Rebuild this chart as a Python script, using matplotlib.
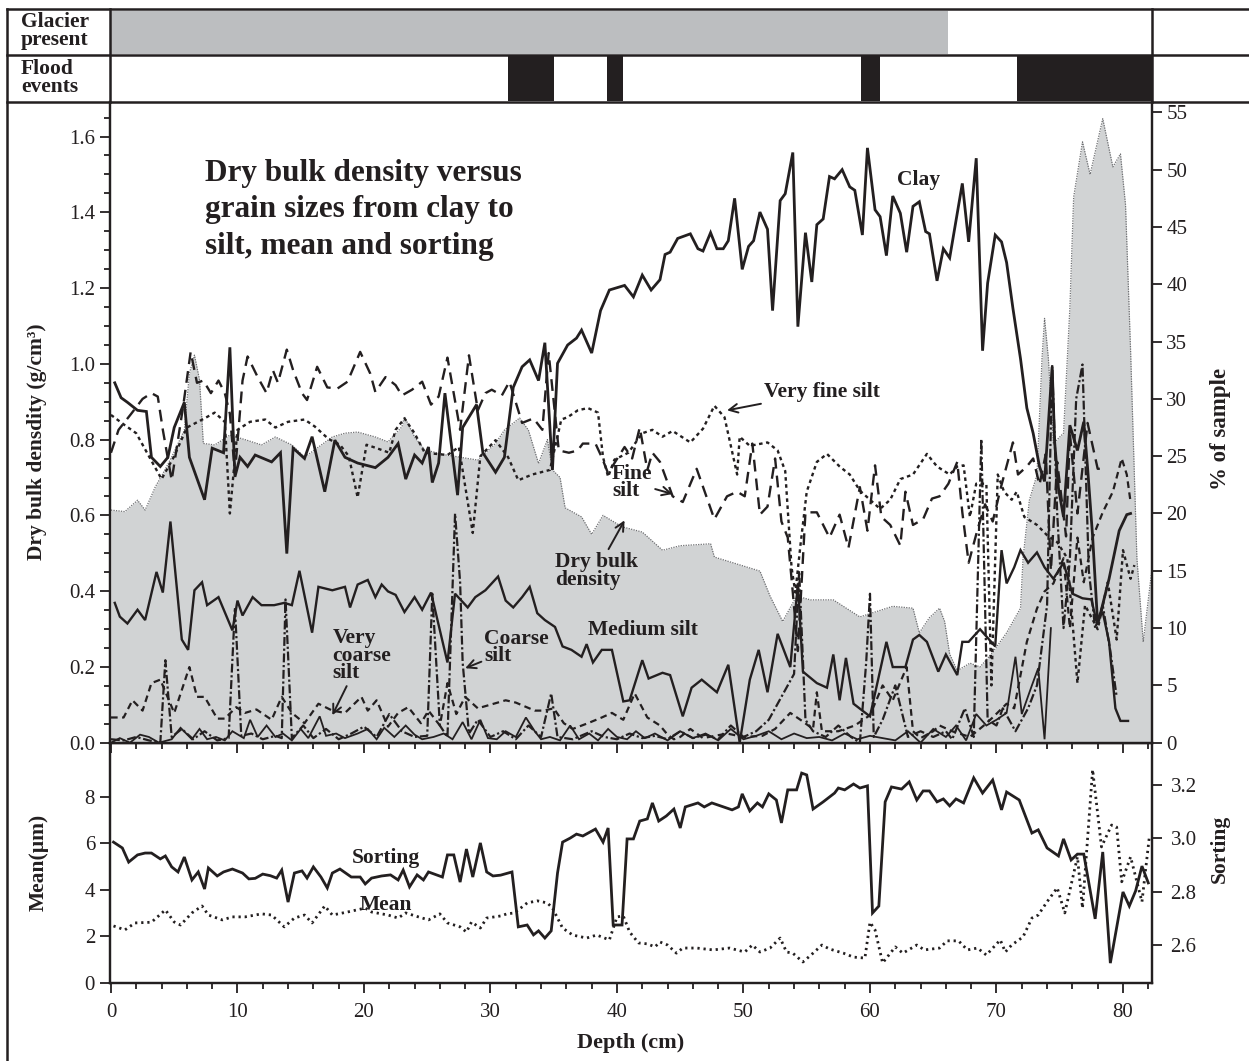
import matplotlib
matplotlib.use("Agg")
import matplotlib.pyplot as plt
from matplotlib.lines import Line2D
from matplotlib.ticker import MultipleLocator, FormatStrFormatter

plt.rcParams['font.family'] = ['Liberation Serif', 'DejaVu Serif']
plt.rcParams['lines.solid_joinstyle'] = 'miter'

INK = '#231f20'
W, H = 1249, 1061

# ---- core sections: depth (cm) vs. value ----
glacier_end = 66.2
flood_start = [31.4, 39.2, 59.3, 71.6]
flood_end = [35.0, 40.5, 60.8, 82.3]

dbd_depth = [0.0, 1.1, 2.1, 2.7, 3.5, 4.1, 4.8, 5.8, 6.2, 6.6, 7.0, 7.3, 8.2, 9.4, 10.6, 11.9, 13.0,
             14.3, 15.3, 16.1, 17.5, 18.5, 19.5, 20.9, 21.9, 23.0, 23.2, 24.0, 24.8, 26.4, 29.0, 30.4,
             31.1, 32.3, 33.0, 33.8, 34.5, 34.9, 35.5, 35.9, 37.2, 38.0, 38.9, 40.4, 42.0, 43.6, 45.0,
             47.4, 47.7, 51.3, 52.1, 53.1, 54.2, 55.3, 57.1, 59.2, 61.8, 63.4, 63.9, 64.7, 65.5, 65.9,
             66.3, 66.9, 67.9, 68.7, 69.6, 70.8, 71.9, 72.1, 72.6, 73.2, 73.6, 73.8, 74.1, 74.5, 75.3,
             75.8, 76.1, 76.8, 77.4, 78.4, 79.2, 79.8, 80.2, 80.6, 81.1, 81.6, 82.27]
dbd = [0.614, 0.61, 0.64, 0.614, 0.675, 0.71, 0.754, 0.825, 0.975, 1.023, 0.958, 0.79, 0.786, 0.812,
       0.80, 0.786, 0.807, 0.786, 0.754, 0.773, 0.807, 0.817, 0.82, 0.807, 0.794, 0.834, 0.86, 0.807,
       0.773, 0.76, 0.746, 0.79, 0.825, 0.857, 0.825, 0.737, 0.80, 0.72, 0.70, 0.62, 0.596, 0.55, 0.60,
       0.57, 0.556, 0.508, 0.52, 0.525, 0.49, 0.453, 0.387, 0.32, 0.387, 0.377, 0.377, 0.332, 0.36,
       0.355, 0.29, 0.33, 0.355, 0.32, 0.234, 0.19, 0.21, 0.2, 0.234, 0.29, 0.355, 0.487, 0.64, 0.707,
       1.015, 1.12, 1.015, 0.79, 0.817, 1.147, 1.44, 1.586, 1.5, 1.647, 1.52, 1.554, 1.42, 1.036, 0.487,
       0.266, 0.453]

clay_depth = [0.3, 0.8, 1.3, 2.1, 2.8, 3.2, 3.9, 4.5, 5.0, 5.8, 6.2, 7.4, 8.0, 8.9, 9.4, 9.8, 10.2,
              10.8, 11.4, 12.7, 13.4, 13.9, 14.4, 15.3, 15.9, 16.9, 17.7, 18.5, 19.5, 20.9, 21.9, 22.7,
              23.3, 24.0, 24.6, 25.1, 25.4, 25.9, 26.4, 27.4, 27.8, 28.9, 29.4, 30.4, 31.1, 31.8, 32.5,
              33.1, 33.8, 34.3, 34.9, 35.3, 36.1, 36.8, 37.2, 38.0, 38.7, 39.4, 40.6, 41.3, 42.0, 42.7,
              43.4, 43.8, 44.2, 44.8, 45.8, 46.4, 46.8, 47.4, 47.9, 48.4, 48.8, 49.3, 49.9, 50.4, 50.8,
              51.3, 51.9, 52.3, 52.9, 53.3, 53.9, 54.3, 54.9, 55.4, 55.8, 56.3, 56.8, 57.2, 57.8, 58.4,
              58.8, 59.4, 59.8, 60.4, 60.8, 61.3, 61.8, 62.4, 62.9, 63.4, 63.9, 64.4, 64.7, 65.3, 65.8,
              66.3, 67.3, 67.8, 68.4, 68.9, 69.3, 69.9, 70.4, 70.8, 71.3, 71.9, 72.4, 72.9, 73.4, 73.8,
              74.4, 74.6, 74.9, 75.3, 75.8, 76.4, 76.9, 77.2, 77.6, 78.0, 78.9, 79.7, 80.3, 80.6]
clay = [31.4, 30.1, 29.7, 29.0, 28.9, 24.9, 24.1, 24.9, 27.5, 29.7, 24.9, 21.2, 25.7, 25.3, 34.5, 23.2,
        24.9, 24.1, 25.1, 24.5, 25.3, 16.5, 25.7, 24.8, 26.7, 21.9, 26.4, 24.9, 24.4, 24.0, 24.9, 26.1,
        23.0, 25.1, 24.4, 25.8, 22.7, 24.4, 30.5, 21.6, 27.5, 29.5, 25.3, 23.6, 24.9, 31.0, 32.8, 33.4,
        31.6, 34.9, 23.8, 33.1, 34.7, 35.3, 36.0, 34.0, 37.7, 39.5, 39.9, 38.9, 40.8, 39.5, 40.4, 42.6,
        42.8, 44.0, 44.4, 43.1, 42.9, 44.5, 43.1, 43.1, 43.8, 47.5, 41.3, 43.3, 43.8, 46.3, 44.8, 37.7,
        47.3, 47.9, 51.5, 36.3, 44.5, 40.2, 45.2, 45.7, 49.4, 49.2, 50.0, 48.5, 48.2, 44.3, 51.9, 46.5,
        45.9, 42.5, 47.7, 46.2, 42.8, 46.8, 47.2, 44.6, 44.4, 40.3, 43.1, 42.3, 48.8, 43.7, 51.0, 34.2,
        40.1, 44.3, 43.7, 41.9, 37.9, 33.5, 29.2, 27.0, 24.1, 22.8, 32.8, 26.2, 22.2, 19.7, 27.7, 25.5,
        28.0, 24.0, 18.0, 10.3, 14.3, 18.5, 19.9, 20.0]

fine_depth = [0.0, 0.6, 1.6, 2.5, 3.2, 3.7, 4.1, 4.8, 5.7, 6.3, 6.8, 7.3, 7.9, 8.5, 9.0, 9.4, 9.8, 10.4,
              10.8, 11.6, 12.3, 12.8, 13.2, 13.9, 14.4, 15.1, 15.5, 16.3, 17.1, 17.9, 18.7, 19.7, 20.5,
              20.9, 21.7, 22.5, 23.0, 23.8, 24.6, 25.3, 25.9, 26.6, 27.6, 28.3, 29.0, 29.6, 30.1, 30.9,
              31.5, 32.5, 33.4, 34.1, 34.6, 35.4, 36.2, 36.9, 37.3, 38.3, 38.8, 39.3, 39.8, 40.6, 41.2,
              41.8, 42.4, 42.8, 43.4, 44.4, 45.2, 46.3, 47.7, 48.7, 49.5, 50.1, 50.7, 51.3, 51.9, 52.5,
              53.0, 53.5, 53.9, 54.3, 54.9, 55.8, 56.8, 57.6, 58.3, 59.2, 59.8, 60.4, 60.9, 61.6, 62.4,
              62.8, 63.4, 64.2, 64.9, 65.5, 66.2, 66.9, 67.3, 67.8, 68.5, 69.1, 69.7, 70.4, 71.3, 71.7,
              72.4, 72.9, 73.4, 73.9, 74.3, 74.8, 75.5, 75.8, 76.4, 77.2, 78.0, 78.7]
fine = [25.3, 27.3, 28.7, 30.0, 30.5, 30.2, 27.3, 22.9, 29.3, 34.1, 31.4, 31.6, 30.5, 31.6, 30.5, 28.7,
        23.5, 31.6, 33.7, 31.9, 30.5, 32.5, 31.4, 34.3, 32.5, 30.5, 29.9, 32.8, 31.0, 30.9, 31.5, 34.1,
        32.2, 30.6, 31.9, 31.2, 30.3, 30.8, 31.5, 29.5, 30.2, 33.6, 27.3, 33.8, 29.0, 30.5, 30.8, 30.3,
        31.5, 27.9, 28.3, 27.3, 34.0, 25.5, 25.3, 25.5, 26.1, 26.1, 24.9, 23.5, 24.4, 25.8, 24.8, 27.5,
        23.8, 25.3, 24.5, 21.5, 21.0, 23.9, 19.5, 21.5, 21.9, 21.5, 26.1, 19.9, 20.6, 24.8, 19.3, 17.9,
        13.1, 8.0, 20.1, 20.1, 17.9, 19.9, 17.0, 22.3, 18.5, 24.2, 19.7, 19.0, 17.2, 21.9, 19.0, 19.5,
        21.3, 21.5, 22.6, 24.5, 20.1, 15.7, 18.6, 20.8, 19.3, 22.5, 26.2, 23.4, 24.1, 24.8, 22.5, 25.2,
        15.0, 24.5, 18.0, 27.0, 20.0, 27.9, 23.9, 23.9]

vfine_depth = [0.0, 1.1, 2.0, 3.0, 4.0, 5.0, 6.0, 7.4, 8.2, 9.0, 9.4, 10.0, 11.0, 12.2, 13.0, 14.0,
               15.3, 16.1, 17.2, 18.1, 18.8, 19.5, 20.2, 21.0, 22.0, 22.5, 23.2, 24.0, 24.8, 26.6, 27.5,
               28.6, 29.2, 30.4, 31.4, 32.2, 33.3, 34.7, 35.6, 36.1, 36.9, 37.7, 38.5, 38.9, 39.3, 39.8,
               40.9, 42.0, 42.8, 43.6, 44.4, 45.8, 46.8, 47.7, 48.5, 49.5, 49.7, 50.5, 51.9, 52.7, 53.3,
               53.8, 54.1, 54.5, 55.0, 55.8, 56.6, 57.6, 58.4, 59.2, 60.0, 60.8, 61.6, 62.4, 63.4, 64.5,
               65.3, 66.3, 66.9, 67.4, 67.9, 68.4, 69.2, 69.6, 70.1, 70.6, 71.2, 71.6, 72.2, 73.2, 74.0,
               74.8, 75.6, 76.4, 77.0, 78.0, 78.8, 79.5, 80.0, 80.6, 80.9]
vfine = [28.6, 27.7, 27.0, 25.0, 23.0, 25.0, 27.5, 28.3, 28.8, 28.0, 20.0, 27.3, 28.0, 28.2, 27.5, 28.0,
         28.2, 27.6, 26.5, 26.0, 25.0, 21.4, 26.0, 25.7, 25.3, 27.3, 28.3, 27.0, 25.3, 25.1, 25.8, 18.3,
         25.0, 26.4, 24.9, 22.9, 23.4, 23.8, 28.2, 28.4, 29.0, 29.2, 28.8, 24.9, 23.2, 24.7, 25.3, 27.0,
         27.3, 26.7, 27.2, 26.2, 27.4, 29.4, 28.4, 23.4, 26.7, 25.9, 26.2, 25.5, 23.7, 15.3, 13.1, 17.2,
         21.9, 24.5, 25.2, 24.1, 23.4, 22.0, 21.2, 20.4, 21.2, 23.0, 23.4, 25.2, 24.1, 23.4, 24.1, 24.2,
         19.7, 22.6, 22.6, 5.0, 23.4, 21.9, 21.2, 21.9, 19.7, 19.0, 18.1, 17.5, 16.1, 5.2, 12.0, 9.9,
         14.0, 9.0, 16.8, 14.3, 15.5]

medium_depth = [0.3, 0.7, 1.3, 2.1, 2.7, 3.6, 4.1, 4.7, 5.6, 6.1, 6.6, 7.2, 7.6, 8.5, 9.6, 10.0, 10.4,
                11.2, 11.9, 12.9, 13.7, 14.3, 14.9, 15.9, 16.4, 17.5, 18.5, 18.9, 19.5, 20.3, 20.9, 21.4,
                21.9, 22.5, 23.2, 24.0, 24.6, 25.3, 26.6, 27.2, 28.2, 28.8, 29.6, 30.1, 30.6, 31.2, 31.8,
                32.5, 33.1, 33.7, 34.3, 35.1, 35.7, 36.4, 37.2, 37.6, 38.1, 38.8, 39.6, 40.5, 41.0, 42.0,
                42.5, 43.6, 44.2, 45.2, 45.9, 46.7, 47.9, 48.8, 49.7, 50.5, 51.2, 51.9, 52.7, 53.7, 54.3,
                54.7, 55.8, 56.6, 57.1, 57.6, 58.1, 58.7, 59.4, 60.0, 60.5, 61.3, 61.8, 62.8, 63.4, 63.9,
                64.5, 65.4, 66.0, 66.9, 67.3, 67.8, 68.7, 69.9, 70.4, 70.8, 71.4, 71.9, 72.5, 73.2, 73.8,
                74.5, 75.3, 76.0, 76.8, 77.5, 77.9, 78.4, 78.9, 79.4, 79.8, 80.4]
medium = [12.2, 11.0, 10.4, 11.6, 10.7, 14.9, 13.1, 19.3, 9.0, 8.1, 13.3, 14.0, 12.0, 12.7, 9.8, 12.4,
          11.1, 12.7, 12.0, 12.0, 12.2, 12.0, 15.0, 9.6, 13.6, 13.3, 13.6, 11.8, 13.8, 14.2, 12.7, 13.8,
          13.2, 12.9, 11.4, 12.7, 11.6, 13.1, 7.0, 13.0, 11.8, 12.7, 13.3, 13.9, 14.5, 12.4, 11.8, 12.7,
          13.6, 11.3, 10.7, 10.1, 8.4, 8.1, 7.5, 8.6, 7.0, 8.1, 8.1, 3.6, 3.7, 7.2, 5.6, 6.1, 5.9, 2.3,
          4.8, 5.5, 4.4, 6.8, 0.0, 5.5, 8.1, 4.4, 9.5, 6.6, 13.9, 6.2, 5.2, 4.8, 7.7, 3.7, 7.4, 3.4, 2.8,
          2.3, 4.8, 8.8, 6.6, 6.6, 9.0, 9.4, 8.8, 6.2, 7.7, 5.9, 8.8, 8.8, 9.9, 8.4, 16.8, 13.9, 15.3,
          16.8, 15.7, 16.6, 15.3, 14.3, 15.7, 13.0, 12.6, 12.5, 10.6, 11.4, 8.8, 3.0, 1.9, 1.9]

coarse_depth = [0.0, 1.0, 2.0, 3.0, 3.9, 4.3, 4.8, 5.6, 6.5, 7.4, 8.4, 9.3, 9.8, 10.3, 11.1, 12.0, 13.0,
                13.5, 13.8, 14.3, 15.2, 16.0, 17.0, 18.0, 19.0, 20.0, 21.0, 22.0, 23.0, 24.0, 25.0, 25.4,
                26.0, 26.6, 27.2, 27.6, 27.8, 28.3, 29.0, 30.0, 31.0, 32.0, 33.0, 34.0, 34.8, 35.3, 36.5,
                38.0, 39.0, 40.0, 41.0, 42.0, 43.0, 44.0, 45.0, 46.0, 47.0, 48.0, 49.0, 50.0, 51.0, 52.0,
                53.0, 54.0, 54.4, 54.9, 55.5, 56.5, 57.5, 58.5, 59.2, 59.7, 60.0, 60.3, 61.0, 62.0, 63.0,
                64.0, 65.0, 66.0, 66.5, 67.5, 68.2, 68.8, 69.3, 70.0, 70.5, 71.5, 72.5, 73.2, 74.0, 74.4,
                74.8, 75.3, 75.8, 76.3, 76.8, 77.3, 77.8, 78.4, 79.0, 79.5]
coarse = [0.3, 0.2, 0.5, 0.2, 0.0, 7.2, 0.5, 1.2, 0.3, 1.0, 0.2, 0.4, 11.8, 0.6, 0.8, 0.3, 0.6, 0.4, 12.5,
          0.4, 1.5, 0.4, 1.2, 0.3, 0.8, 1.4, 0.5, 2.5, 1.0, 0.5, 0.6, 13.0, 1.5, 0.5, 20.0, 14.0, 7.0,
          0.8, 2.0, 0.5, 1.0, 0.3, 1.5, 0.5, 4.3, 0.5, 0.3, 1.0, 0.5, 0.3, 0.8, 0.4, 0.6, 0.3, 1.0, 0.4,
          0.7, 0.3, 1.5, 0.5, 1.0, 2.0, 4.0, 6.0, 15.0, 2.0, 1.0, 0.5, 1.5, 0.5, 0.0, 7.0, 13.0, 0.5, 2.0,
          5.0, 0.5, 1.0, 0.5, 1.0, 0.3, 3.0, 0.5, 26.5, 2.0, 1.5, 3.0, 1.0, 3.0, 5.0, 12.0, 33.0, 20.0,
          10.0, 16.0, 30.0, 33.0, 15.0, 10.0, 12.0, 8.0, 4.0]

vcoarse_depth = [0.0, 1.0, 1.7, 2.5, 3.2, 3.9, 5.0, 6.2, 6.8, 7.4, 8.4, 9.0, 9.9, 10.6, 11.5, 12.7, 13.5,
                 14.3, 15.3, 16.4, 17.5, 18.5, 19.8, 20.3, 21.0, 21.9, 22.7, 23.5, 24.5, 25.1, 26.0, 26.6,
                 27.3, 28.0, 29.0, 31.2, 32.0, 33.5, 34.2, 35.0, 35.8, 36.5, 37.7, 38.8, 39.6, 40.5, 41.4,
                 42.4, 43.4, 44.0, 44.5, 45.0, 45.8, 46.8, 48.7, 50.0, 51.5, 52.5, 53.7, 54.5, 55.5, 55.8,
                 56.2, 57.5, 58.8, 60.0, 61.0, 61.8, 62.9, 63.4, 64.0, 65.0, 65.5, 66.5, 67.9, 69.0, 69.7,
                 70.8, 71.4, 72.4, 73.2, 73.8, 74.5, 75.3, 75.8, 76.4, 76.9, 77.6, 78.4, 79.2, 79.9, 80.3,
                 80.6]
vcoarse = [2.2, 2.2, 3.7, 2.8, 5.2, 5.5, 2.6, 6.6, 4.0, 4.0, 2.1, 2.1, 3.1, 2.6, 2.9, 2.0, 4.0, 2.6, 1.7,
           3.4, 2.8, 2.6, 4.0, 2.8, 3.7, 1.4, 2.6, 3.1, 1.7, 2.8, 1.5, 5.2, 2.5, 4.0, 3.0, 3.7, 3.5, 2.8,
           2.8, 3.0, 1.7, 1.2, 1.7, 2.2, 2.6, 2.0, 4.3, 2.2, 1.5, 0.7, 0.3, 0.5, 1.2, 0.4, 0.8, 0.5, 0.6,
           1.2, 2.6, 2.0, 1.2, 4.4, 1.0, 1.0, 1.5, 2.4, 5.0, 3.7, 6.6, 1.0, 0.4, 1.0, 1.5, 1.0, 0.5, 1.5,
           2.2, 3.4, 3.0, 8.8, 11.7, 13.2, 13.9, 16.1, 10.0, 17.9, 14.0, 17.9, 20.1, 21.9, 24.8, 23.4, 21.0]

sand_depth = [0.0, 0.7, 1.5, 2.3, 3.0, 3.8, 4.8, 5.5, 6.4, 7.0, 7.6, 8.3, 9.0, 9.6, 10.5, 11.0, 11.6,
              12.3, 13.0, 13.6, 14.3, 15.0, 15.6, 16.5, 17.0, 17.8, 18.5, 19.5, 20.3, 21.0, 21.6, 22.4,
              23.3, 24.0, 24.6, 25.5, 26.3, 27.0, 27.8, 28.5, 29.2, 29.8, 30.5, 31.2, 32.0, 32.8, 33.5,
              34.0, 34.7, 35.5, 36.3, 37.0, 37.8, 38.5, 39.3, 40.0, 40.8, 41.5, 42.2, 43.0, 44.0, 45.0,
              46.0, 47.0, 48.0, 49.0, 50.0, 51.0, 52.0, 53.0, 54.0, 55.0, 56.0, 57.0, 58.0, 59.0, 60.0,
              61.0, 62.0, 63.0, 64.0, 65.0, 66.0, 66.8, 67.6, 68.4, 69.2, 70.0, 70.8, 71.5, 72.0, 72.8,
              73.3, 73.8, 74.3]
sand = [0.0, 0.4, 0.0, 0.7, 0.5, 0.0, 0.3, 1.3, 0.3, 1.2, 0.3, 0.5, 0.2, 1.0, 0.4, 2.0, 0.5, 1.5, 0.5,
        0.8, 0.2, 1.2, 0.4, 2.3, 0.6, 0.8, 0.4, 0.8, 1.2, 0.3, 1.3, 0.5, 1.5, 0.7, 0.3, 0.5, 0.8, 0.3,
        1.8, 0.3, 2.0, 0.4, 0.3, 1.0, 0.5, 2.2, 1.0, 0.3, 0.5, 0.2, 1.5, 0.3, 0.8, 0.2, 1.2, 0.5, 0.3,
        1.0, 0.4, 0.8, 0.2, 1.0, 0.4, 0.8, 0.2, 1.2, 0.3, 0.6, 1.0, 0.3, 0.8, 0.4, 0.5, 0.2, 0.8, 0.3,
        0.6, 0.4, 0.2, 1.0, 0.0, 1.2, 0.5, 1.5, 0.2, 2.5, 1.5, 2.0, 2.6, 7.5, 2.5, 5.0, 6.5, 0.3, 10.0]

sort_depth = [0.2, 0.9, 1.4, 2.1, 2.7, 3.2, 3.9, 4.3, 4.8, 5.3, 5.8, 6.4, 6.9, 7.4, 7.7, 8.4, 8.9, 9.6,
              10.4, 10.9, 11.4, 12.0, 12.6, 13.1, 13.5, 14.0, 14.5, 15.1, 15.5, 16.0, 16.6, 17.1, 17.5,
              18.1, 19.0, 19.7, 20.1, 20.6, 21.4, 22.1, 22.7, 23.1, 23.6, 24.2, 24.7, 25.1, 26.2, 26.6,
              27.1, 27.6, 28.1, 28.6, 29.2, 29.7, 30.2, 30.8, 31.7, 32.2, 32.9, 33.4, 33.8, 34.3, 34.8,
              35.3, 35.7, 36.3, 36.8, 37.3, 38.3, 38.9, 39.3, 39.7, 40.4, 40.8, 41.3, 41.8, 42.4, 42.8,
              43.3, 43.9, 44.5, 45.0, 45.4, 46.4, 46.9, 47.5, 49.1, 49.6, 49.9, 50.5, 51.1, 51.5, 52.0,
              52.6, 53.0, 53.5, 54.2, 54.6, 55.0, 55.5, 56.3, 57.2, 57.5, 58.0, 58.7, 59.2, 59.8, 60.2,
              60.7, 61.2, 61.7, 62.5, 63.1, 63.7, 64.2, 64.7, 65.3, 65.8, 66.3, 66.8, 67.4, 68.2, 68.9,
              69.7, 70.4, 70.8, 71.8, 72.8, 73.3, 74.0, 74.9, 75.3, 75.9, 76.4, 76.9, 77.8, 78.4, 79.0,
              80.0, 80.5, 81.0, 81.5, 82.0]
sorting = [2.986, 2.964, 2.911, 2.938, 2.945, 2.945, 2.923, 2.934, 2.893, 2.874, 2.93, 2.844, 2.874,
           2.81, 2.889, 2.859, 2.874, 2.885, 2.87, 2.848, 2.85, 2.866, 2.86, 2.851, 2.881, 2.761, 2.87,
           2.878, 2.851, 2.893, 2.855, 2.814, 2.87, 2.885, 2.855, 2.855, 2.829, 2.851, 2.859, 2.863,
           2.844, 2.881, 2.818, 2.863, 2.844, 2.874, 2.855, 2.938, 2.938, 2.836, 2.96, 2.855, 2.983,
           2.874, 2.859, 2.862, 2.874, 2.668, 2.675, 2.638, 2.653, 2.626, 2.653, 2.87, 2.986, 3.001,
           3.016, 3.009, 3.035, 2.986, 3.039, 2.675, 2.675, 2.998, 2.998, 3.065, 3.073, 3.133, 3.065,
           3.084, 3.11, 3.039, 3.118, 3.133, 3.118, 3.133, 3.107, 3.118, 3.167, 3.103, 3.133, 3.118,
           3.167, 3.144, 3.058, 3.182, 3.182, 3.245, 3.238, 3.11, 3.137, 3.17, 3.189, 3.182, 3.204,
           3.189, 3.197, 2.72, 2.746, 3.137, 3.193, 3.185, 3.212, 3.144, 3.178, 3.178, 3.137, 3.148,
           3.122, 3.148, 3.133, 3.227, 3.17, 3.219, 3.107, 3.174, 3.144, 3.02, 3.032, 2.964, 2.934,
           2.998, 2.919, 2.941, 2.941, 2.698, 2.949, 2.532, 2.799, 2.746, 2.803, 2.896, 2.833]

mean_depth = [0.2, 1.1, 1.9, 3.2, 4.3, 5.0, 5.5, 6.4, 7.2, 7.7, 8.8, 9.6, 10.6, 11.9, 12.7, 13.7, 14.5,
              15.3, 15.9, 16.9, 17.5, 18.7, 20.1, 20.6, 21.9, 22.7, 23.3, 24.3, 25.1, 26.0, 26.6, 27.6,
              28.1, 28.5, 29.2, 29.7, 30.8, 31.3, 31.9, 32.9, 33.7, 34.5, 34.9, 35.7, 36.5, 37.6, 38.4,
              39.4, 40.0, 40.5, 41.0, 41.7, 42.4, 43.0, 43.4, 44.0, 44.7, 45.2, 46.3, 47.6, 48.9, 50.1,
              50.7, 51.3, 52.1, 52.9, 53.4, 53.9, 54.7, 55.5, 56.2, 56.8, 57.9, 58.7, 59.6, 60.0, 60.4,
              61.0, 62.0, 62.6, 63.7, 64.3, 65.5, 66.1, 67.0, 67.7, 68.5, 69.2, 70.3, 70.7, 71.2, 72.1,
              72.8, 73.3, 74.0, 74.8, 75.4, 76.4, 76.8, 77.6, 78.3, 79.1, 79.5, 79.9, 80.6, 81.5, 82.1]
mean = [2.44, 2.27, 2.57, 2.6, 3.13, 2.61, 2.48, 3.0, 3.3, 2.91, 2.7, 2.83, 2.83, 2.96, 2.91, 2.4, 2.78,
        2.91, 2.57, 3.3, 2.91, 3.04, 3.21, 3.04, 2.91, 2.78, 3.0, 2.83, 2.7, 2.96, 2.57, 2.4, 2.18, 2.61,
        2.35, 2.78, 2.87, 2.96, 3.0, 3.43, 3.52, 3.43, 3.21, 2.35, 2.05, 1.92, 2.05, 1.84, 2.83, 2.87,
        2.18, 1.71, 1.67, 1.54, 1.75, 1.62, 1.27, 1.49, 1.49, 1.41, 1.49, 1.32, 1.62, 1.32, 1.49, 1.92,
        1.32, 1.27, 0.89, 1.27, 1.62, 1.45, 1.27, 1.1, 1.06, 2.6, 2.27, 0.85, 1.54, 1.27, 1.62, 1.41,
        1.49, 1.8, 1.8, 1.41, 1.49, 1.19, 1.84, 1.32, 1.62, 1.97, 2.78, 2.91, 3.48, 4.08, 3.0, 5.41,
        3.21, 9.16, 5.84, 6.78, 6.69, 4.34, 5.41, 3.48, 6.35]


def box(x0, y0, x1, y1):
    return [x0 / W, 1 - y1 / H, (x1 - x0) / W, (y1 - y0) / H]


XL, XR = 109.7, 1151.7
XLIM = (-0.1, 82.27)
LAB = dict(fontsize=15.5, fontweight='bold', color=INK)
TICKFS = 15

fig = plt.figure(figsize=(W / 100, H / 100), dpi=100)

# outer frame and header rows
for (x0, y0, x1, y1) in [(7.3, 9.3, 7.3, 1061), (7.3, 9.3, W, 9.3), (7.3, 55, W, 55),
                         (7.3, 101.7, W, 101.7), (XR, 9.3, XR, 101.7), (XL, 9.3, XL, 101.7)]:
    fig.add_artist(Line2D([x0 / W, x1 / W], [1 - y0 / H, 1 - y1 / H], color=INK, lw=1.8,
                          solid_capstyle='projecting'))

gax = fig.add_axes(box(XL, 10.5, XR, 54))
gax.broken_barh([(XLIM[0], glacier_end - XLIM[0])], (0, 1), color='#bcbec0', lw=0)
fax = fig.add_axes(box(XL, 56, XR, 100.5))
fax.broken_barh([(s, e - s) for s, e in zip(flood_start, flood_end)], (0, 1), color=INK, lw=0)
for a in (gax, fax):
    a.set_xlim(*XLIM)
    a.set_ylim(0, 1)
    a.axis('off')

fig.text(21 / W, 1 - 31 / H, 'Glacier\npresent', va='center', ha='left', linespacing=0.85, **LAB)
fig.text(21 / W, 1 - 78 / H, 'Flood\nevents', va='center', ha='left', linespacing=0.85, **LAB)

# bottom panel first so the upper panel's x ticks stay visible over it
bx = fig.add_axes(box(XL, 742.7, XR, 982.7))
bx.patch.set_visible(False)
bx.plot(mean_depth, mean, color=INK, lw=2.0, ls=(0, (0.8, 1.4)))
bx.set_xlim(*XLIM)
bx.set_ylim(0, 10.32)
bx.set_yticks([0, 2, 4, 6, 8])
bx.xaxis.set_major_locator(MultipleLocator(10))
bx.xaxis.set_minor_locator(MultipleLocator(2))
bx.set_ylabel('Mean(µm)', fontsize=15.5, fontweight='bold', color=INK)
bx.yaxis.set_label_coords(-0.059, 0.5)
bx.set_xlabel('Depth (cm)', fontsize=16, fontweight='bold', color=INK, labelpad=8)
bx.text(19.05, 5.36, 'Sorting', va='center', **LAB)
bx.text(19.7, 3.34, 'Mean', va='center', **LAB)

bx2 = bx.twinx()
bx2.plot(sort_depth, sorting, color=INK, lw=2.0)
bx2.set_ylim(2.4585, 3.359)
bx2.set_yticks([2.6, 2.8, 3.0, 3.2])
bx2.yaxis.set_major_formatter(FormatStrFormatter('%.1f'))
bx2.set_ylabel('Sorting', fontsize=15.5, fontweight='bold', color=INK)
bx2.yaxis.set_label_coords(1.056, 0.557)

# main panel
ax = fig.add_axes(box(XL, 101.7, XR, 742.7))
ax.fill_between(dbd_depth, 0, dbd, color='#d1d3d4', lw=0)
ax.plot(dbd_depth, dbd, color='#6d6e71', lw=0.9, ls=(0, (1, 1)))
ax.set_xlim(*XLIM)
ax.set_ylim(0, 1.692)
ax.yaxis.set_major_locator(MultipleLocator(0.2))
ax.yaxis.set_minor_locator(MultipleLocator(0.05))
ax.yaxis.set_major_formatter(FormatStrFormatter('%.1f'))
ax.xaxis.set_major_locator(MultipleLocator(10))
ax.xaxis.set_minor_locator(MultipleLocator(2))
ax.set_ylabel('Dry bulk densdity (g/cm³)', fontsize=15.5, fontweight='bold', color=INK)
ax.yaxis.set_label_coords(-0.06, 0.47)

ax2 = ax.twinx()
ax2.set_ylim(0, 55.93)
ax2.yaxis.set_major_locator(MultipleLocator(5))
ax2.set_ylabel('% of sample', fontsize=16.5, fontweight='bold', color=INK)
ax2.yaxis.set_label_coords(1.056, 0.49)

ax2.plot(sand_depth, sand, color=INK, lw=1.3)
ax2.plot(vcoarse_depth, vcoarse, color=INK, lw=1.6, ls=(0, (3, 2)))
ax2.plot(coarse_depth, coarse, color=INK, lw=1.6, ls=(0, (4, 1.2, 1, 1.2)))
ax2.plot(medium_depth, medium, color=INK, lw=1.7)
ax2.plot(vfine_depth, vfine, color=INK, lw=1.7, ls=(0, (1.5, 1.5)))
ax2.plot(fine_depth, fine, color=INK, lw=1.7, ls=(0, (5, 3)))
ax2.plot(clay_depth, clay, color=INK, lw=2.0)

ax2.text(7.4, 46.5, 'Dry bulk density versus\ngrain sizes from clay to\nsilt, mean and sorting',
         fontsize=22.5, fontweight='bold', color=INK, va='center', ha='left', linespacing=1.34)
ax2.text(62.1, 49.1, 'Clay', va='center', **LAB)
ax2.text(37.7, 9.8, 'Medium silt', va='center', **LAB)
arrow = dict(arrowstyle='->', color=INK, lw=1.4, shrinkA=0, shrinkB=0)
ax2.annotate('Very fine silt', xy=(48.7, 29.0), xytext=(51.6, 30.6), va='center', ha='left',
             arrowprops=arrow, **LAB)
ax2.annotate('Fine\nsilt', xy=(44.4, 21.7), xytext=(39.6, 22.7), va='center', ha='left',
             linespacing=0.85, arrowprops=arrow, **LAB)
ax2.annotate('Dry bulk\ndensity', xy=(40.6, 19.4), xytext=(35.1, 15.0), va='center', ha='left',
             linespacing=0.85, arrowprops=arrow, **LAB)
ax2.annotate('Coarse\nsilt', xy=(28.0, 6.5), xytext=(29.5, 8.3), va='center', ha='left',
             linespacing=0.85, arrowprops=arrow, **LAB)
ax2.annotate('Very\ncoarse\nsilt', xy=(17.5, 2.4), xytext=(17.5, 7.6), va='center', ha='left',
             linespacing=0.85, arrowprops=arrow, **LAB)

for a in (ax, ax2, bx, bx2):
    for sp in a.spines.values():
        sp.set_linewidth(1.6)
        sp.set_color(INK)
    a.tick_params(which='both', direction='out', colors=INK, labelsize=TICKFS, width=1.3)
    a.tick_params(which='major', length=7.5, pad=3)
    a.tick_params(which='minor', length=4.5)

ax.tick_params(axis='x', labelbottom=False)
ax.spines['top'].set_visible(False)
ax2.spines['top'].set_visible(False)
ax2.tick_params(axis='y', pad=3)
bx2.tick_params(axis='y', pad=6)
bx.tick_params(axis='x', pad=7)

fig.savefig('out.png', dpi=100)
